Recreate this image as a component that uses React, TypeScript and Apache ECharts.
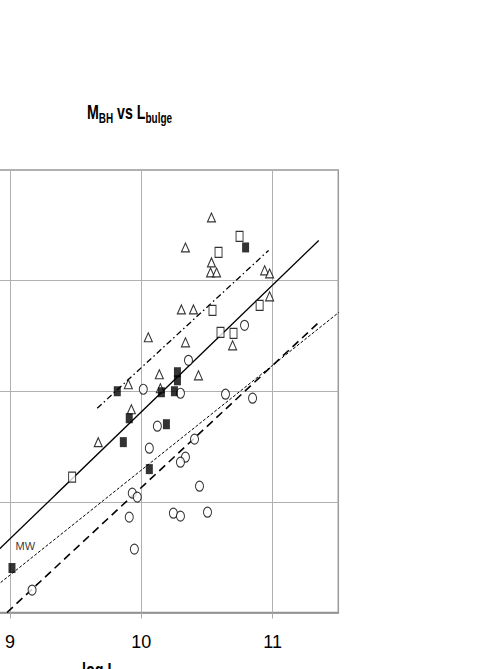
import React, { useEffect, useRef } from "react";
import * as echarts from "echarts";

const FONT = "'Liberation Sans', Arial, sans-serif";
const OFF = 200; // chart canvas extends this far to the left of the page

// x = log L_bulge, y = log M_BH
const openTriangles: number[][] = [
  [10.534, 9.571], [10.336, 9.3], [10.534, 9.165], [10.527, 9.074], [10.573, 9.074],
  [10.939, 9.093], [10.977, 9.065], [10.977, 8.858], [10.305, 8.74], [10.397, 8.74],
  [10.053, 8.488], [10.336, 8.442], [10.695, 8.415], [10.137, 8.154], [10.435, 8.144],
  [9.901, 8.063], [10.145, 8.027], [9.924, 7.837], [9.672, 7.54],
];
const openSquares: number[][] = [
  [10.748, 9.4], [10.588, 9.255], [10.542, 8.731], [10.901, 8.777], [10.603, 8.533],
  [10.702, 8.524], [9.473, 7.223],
];
const filledSquares: number[][] = [
  [10.794, 9.3], [10.275, 8.172], [10.275, 8.099], [9.817, 8.0], [10.153, 7.991],
  [10.252, 8.0], [9.908, 7.756], [10.191, 7.702], [9.863, 7.54], [10.061, 7.296],
];
const milkyWay: number[] = [9.015, 6.402];
const openCircles: number[][] = [
  [10.786, 8.596], [10.359, 8.28], [10.015, 8.018], [10.298, 7.982], [10.641, 7.973],
  [10.847, 7.937], [10.122, 7.684], [10.405, 7.567], [10.061, 7.485], [10.336, 7.404],
  [10.298, 7.359], [10.443, 7.142], [9.931, 7.079], [9.969, 7.043], [9.908, 6.862],
  [10.244, 6.898], [10.298, 6.871], [10.504, 6.907], [9.947, 6.573], [9.168, 6.203],
];

// fitted relations (end points)
const solidFit: number[][] = [[8.5, 6.093], [11.351, 9.363]];
const dashDotFit: number[][] = [[9.664, 7.846], [10.969, 9.273]];
const dottedFit: number[][] = [[8.643, 6.0], [11.504, 8.713]];
const dashedFit: number[][] = [[8.977, 6.0], [11.344, 8.614]];

const xTicks = [8, 9, 10, 11];
const xTickLabels = [9, 10, 11];

const ELLIPSE = "path://M0,5 A5,5 0 1 1 10,5 A5,5 0 1 1 0,5 Z";

export default function App() {
  const ref = useRef<HTMLDivElement>(null);
  useEffect(() => {
    if (!ref.current) return;
    const chart = echarts.init(ref.current, null, { renderer: "svg" });
    const openStyle = { color: "#ffffff", borderColor: "#000000", borderWidth: 1.1 };
    const lineSeries = (data: number[][], style: any) => ({
      type: "line",
      data,
      showSymbol: false,
      symbol: "none",
      silent: true,
      lineStyle: style,
      z: 1,
    });
    const subRich = {
      m: { fontSize: 20, fontWeight: "bold", fontFamily: FONT, fill: "#000", lineHeight: 26, verticalAlign: "middle" },
      s: { fontSize: 14, fontWeight: "bold", fontFamily: FONT, fill: "#000", lineHeight: 26, verticalAlign: "bottom" },
    };
    chart.setOption({
      animation: false,
      backgroundColor: "#ffffff",
      grid: {
        left: OFF - 121.3,
        right: 138.7,
        top: 170,
        bottom: 56.5,
        outerBoundsMode: "none",
        show: true,
        borderColor: "#999999",
        borderWidth: 1.5,
        backgroundColor: "transparent",
      },
      xAxis: {
        type: "value",
        min: 8,
        max: 11.5,
        interval: 1,
        axisLine: { show: true, lineStyle: { color: "#888888", width: 1.5 } },
        axisTick: { show: true, inside: false, length: 6, customValues: xTicks, lineStyle: { color: "#aaaaaa" } },
        axisLabel: {
          customValues: xTickLabels,
          margin: 20,
          fontSize: 18,
          fontFamily: FONT,
          color: "#000",
          formatter: (v: number) => (Number.isInteger(v) ? String(v) : ""),
        },
        splitLine: { show: true, lineStyle: { color: "#b0b0b0", width: 1 } },
      },
      yAxis: {
        type: "value",
        min: 6,
        max: 10,
        interval: 1,
        axisLine: { show: true, lineStyle: { color: "#888888" } },
        axisTick: { show: true },
        axisLabel: { show: false },
        splitLine: { show: true, lineStyle: { color: "#b0b0b0", width: 1 } },
      },
      graphic: [
        {
          type: "text",
          x: OFF + 87,
          y: 99,
          scaleX: 0.71,
          style: {
            text: "{m|M}{s|BH}{m| vs L}{s|bulge}",
            rich: subRich,
            verticalAlign: "top",
            align: "left",
          },
        },
        {
          type: "text",
          x: OFF + 82,
          y: 657,
          scaleX: 0.72,
          style: {
            text: "{m|log L}{s|bulge}",
            rich: subRich,
            verticalAlign: "top",
            align: "left",
          },
        },
      ],
      series: [
        lineSeries(solidFit, { color: "#000", width: 1.3, type: "solid" }),
        lineSeries(dashDotFit, { color: "#000", width: 1.3, type: [6, 3, 1.5, 3] }),
        lineSeries(dottedFit, { color: "#000", width: 1, type: [3, 1.8] }),
        lineSeries(dashedFit, { color: "#000", width: 1.6, type: [8, 5] }),
        {
          type: "scatter",
          name: "open triangles",
          data: openTriangles,
          symbol: "triangle",
          symbolSize: [8, 9],
          itemStyle: openStyle,
          z: 3,
        },
        {
          type: "scatter",
          name: "open squares",
          data: openSquares,
          symbol: "rect",
          symbolSize: [7, 10],
          itemStyle: openStyle,
          z: 3,
        },
        {
          type: "scatter",
          name: "open circles",
          data: openCircles,
          symbol: ELLIPSE,
          symbolSize: [8, 10],
          itemStyle: openStyle,
          z: 3,
        },
        {
          type: "scatter",
          name: "filled squares",
          data: [
            ...filledSquares,
            {
              value: milkyWay,
              label: {
                show: true,
                formatter: "MW",
                position: [7, -23],
                align: "left",
                verticalAlign: "top",
                fontSize: 11,
                fontFamily: FONT,
                color: "#000000",
                textBorderWidth: 0,
              },
            },
          ],
          symbol: "rect",
          symbolSize: [7, 10],
          itemStyle: { color: "#000000" },
          z: 4,
        },
      ],
    });
    return () => chart.dispose();
  }, []);
  return (
    <div
      ref={ref}
      style={{ position: "fixed", left: -OFF, top: 0, width: 477 + OFF, height: 669, background: "#fff" }}
    />
  );
}
